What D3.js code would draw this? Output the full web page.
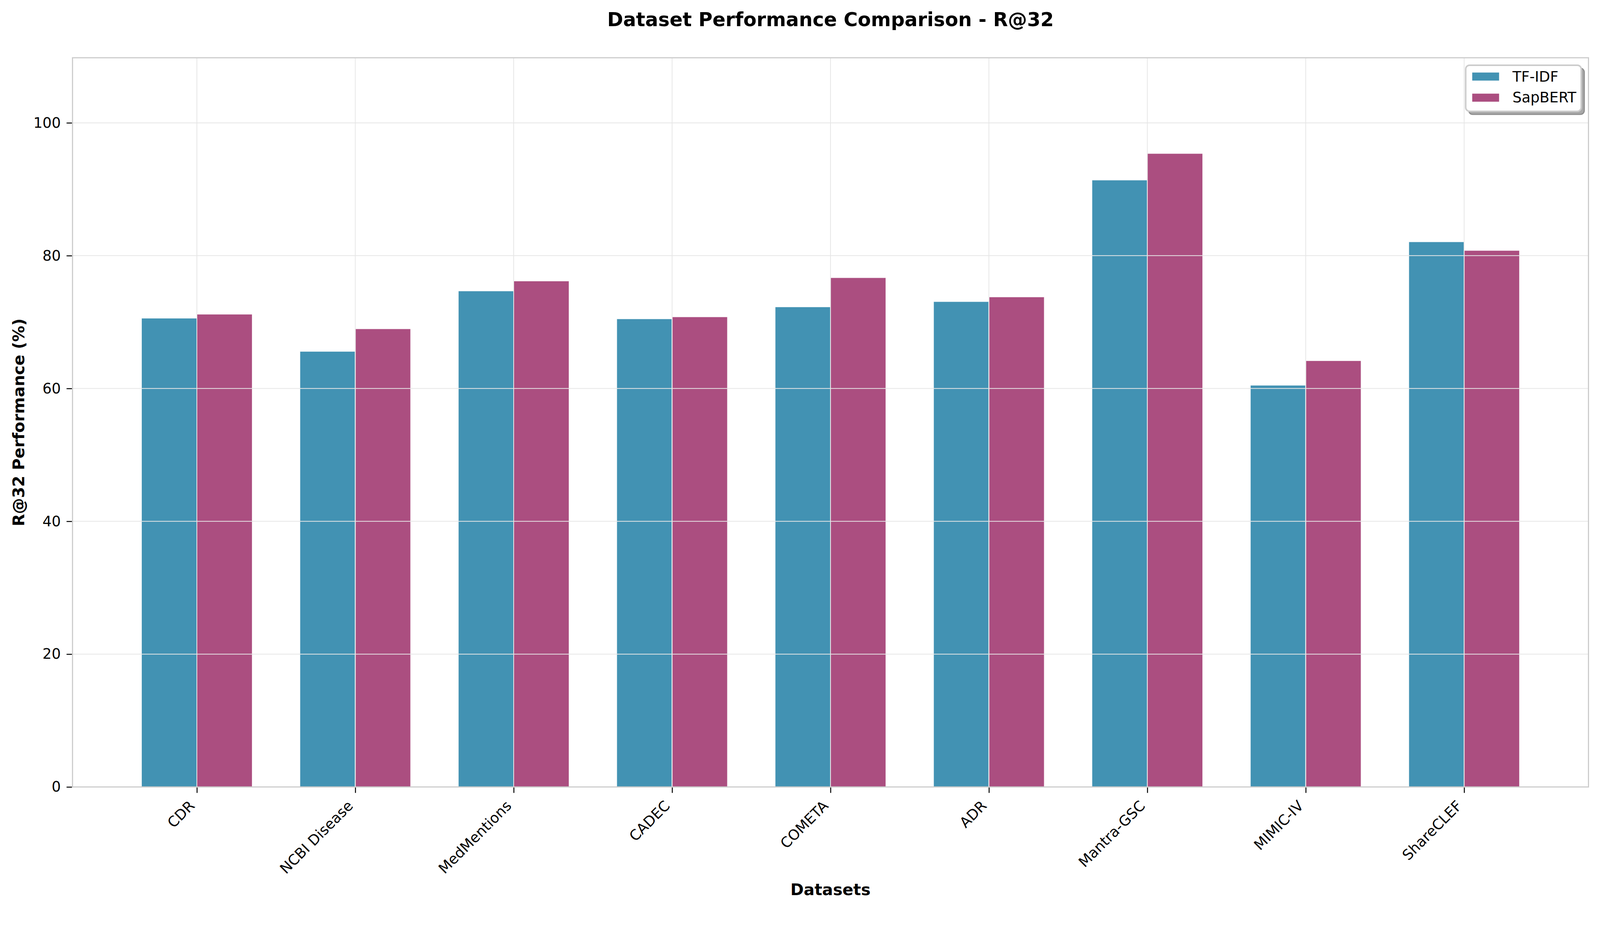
<!DOCTYPE html>
<html>
<head>
<meta charset="utf-8">
<script src="https://cdn.jsdelivr.net/npm/d3@7"></script>
<style>
  html, body { margin: 0; padding: 0; background: #ffffff; overflow: hidden; width: 100%; height: 100%; }
  svg { display: block; }
  text { font-family: "DejaVu Sans", sans-serif; fill: #000; }
</style>
</head>
<body>
<script>
// ---- data ----
const categories = ["CDR", "NCBI Disease", "MedMentions", "CADEC", "COMETA", "ADR", "Mantra-GSC", "MIMIC-IV", "ShareCLEF"];
const seriesNames = ["TF-IDF", "SapBERT"];
const tfidfValues = [70.6, 65.6, 74.7, 70.5, 72.3, 73.1, 91.4, 60.5, 82.1];
const sapbertValues = [71.2, 69.0, 76.2, 70.8, 76.7, 73.8, 95.4, 64.2, 80.8];
const yTicks = [0, 20, 40, 60, 80, 100];
const yMax = 109.8;
const chartTitle = "Dataset Performance Comparison - R@32";
const xLabel = "Datasets";
const yLabel = "R@32 Performance (%)";
const colors = ["#2E86AB", "#A23B72"];

const W = 4170, H = 2370;
const plot = { left: 189, right: 4140, top: 150.5, bottom: 2050.5 };
const barW = 0.35;

const svg = d3.select("body").append("svg")
  .attr("viewBox", `0 0 ${W} ${H}`)
  .attr("preserveAspectRatio", "xMinYMin meet")
  .style("width", "100vw").style("height", "100vh");
svg.append("rect").attr("width", W).attr("height", H).attr("fill", "#fff");

const x = d3.scaleLinear().domain([-0.785, categories.length - 1 + 0.785]).range([plot.left, plot.right]);
const y = d3.scaleLinear().domain([0, yMax]).range([plot.bottom, plot.top]);

// bars
const series = [tfidfValues, sapbertValues];
series.forEach((vals, si) => {
  const off = si === 0 ? -barW / 2 : barW / 2;
  svg.append("g").selectAll("rect").data(vals).enter().append("rect")
    .attr("x", (d, i) => x(i + off - barW / 2))
    .attr("width", (d, i) => x(i + off + barW / 2) - x(i + off - barW / 2))
    .attr("y", d => y(d))
    .attr("height", d => y(0) - y(d))
    .attr("fill", colors[si])
    .attr("fill-opacity", 0.9)
    .attr("stroke", "#ffffff")
    .attr("stroke-opacity", 0.9)
    .attr("stroke-width", 2);
});

// grid (above bars, like matplotlib default)
const grid = svg.append("g");
grid.selectAll("line.h").data(yTicks).enter().append("line")
  .attr("x1", plot.left).attr("x2", plot.right)
  .attr("y1", d => y(d)).attr("y2", d => y(d))
  .attr("stroke", "#e6e6e6").attr("stroke-width", 2);
grid.selectAll("line.v").data(categories.map((c, i) => i)).enter().append("line")
  .attr("x1", d => x(d)).attr("x2", d => x(d))
  .attr("y1", plot.top).attr("y2", plot.bottom)
  .attr("stroke", "#e6e6e6").attr("stroke-width", 2);

// spines
svg.append("rect")
  .attr("x", plot.left).attr("y", plot.top)
  .attr("width", plot.right - plot.left).attr("height", plot.bottom - plot.top)
  .attr("fill", "none").attr("stroke", "#cccccc").attr("stroke-width", 3);

// x axis
const xAxis = d3.axisBottom(x)
  .tickValues(categories.map((c, i) => i))
  .tickFormat(i => categories[i])
  .tickSizeInner(14).tickSizeOuter(0).tickPadding(0);
const gx = svg.append("g").attr("transform", `translate(0,${plot.bottom + 1.5})`).call(xAxis);
gx.select(".domain").remove();
gx.selectAll(".tick line").attr("stroke", "#000").attr("stroke-width", 2.5);
gx.selectAll(".tick text")
  .attr("font-size", 37.5)
  .attr("font-family", "DejaVu Sans")
  .attr("text-anchor", "end")
  .attr("y", 0).attr("dy", 0)
  .attr("transform", "translate(-4,50) rotate(-45)");

// y axis
const yAxis = d3.axisLeft(y).tickValues(yTicks).tickFormat(d3.format("d"))
  .tickSizeInner(14).tickSizeOuter(0).tickPadding(15);
const gy = svg.append("g").attr("transform", `translate(${plot.left - 1.5},0)`).call(yAxis);
gy.select(".domain").remove();
gy.selectAll(".tick line").attr("stroke", "#000").attr("stroke-width", 2.5);
gy.selectAll(".tick text").attr("font-size", 37.5).attr("font-family", "DejaVu Sans");

// title & labels
const cx = (plot.left + plot.right) / 2;
svg.append("text").attr("x", cx).attr("y", 68).attr("text-anchor", "middle")
  .attr("font-size", 50).attr("font-weight", "bold").text(chartTitle);
svg.append("text").attr("x", cx).attr("y", 2332).attr("text-anchor", "middle")
  .attr("font-size", 41.7).attr("font-weight", "bold").text(xLabel);
svg.append("text")
  .attr("transform", `translate(63,${(plot.top + plot.bottom) / 2}) rotate(-90)`)
  .attr("text-anchor", "middle")
  .attr("font-size", 41.7).attr("font-weight", "bold").text(yLabel);

// legend
const lg = svg.append("g");
const L = { x: 3820, y: 170, w: 301, h: 120 };
lg.append("rect").attr("x", L.x + 8).attr("y", L.y + 8).attr("width", L.w).attr("height", L.h)
  .attr("rx", 10).attr("fill", "#a8a8a8").attr("stroke", "#8f8f8f").attr("stroke-width", 3);
lg.append("rect").attr("x", L.x).attr("y", L.y).attr("width", L.w).attr("height", L.h)
  .attr("rx", 10).attr("fill", "#ffffff").attr("stroke", "#cccccc").attr("stroke-width", 4);
seriesNames.forEach((name, i) => {
  const yy = [188, 243][i];
  lg.append("rect").attr("x", 3836).attr("y", yy).attr("width", 72).attr("height", 23)
    .attr("fill", colors[i]).attr("fill-opacity", 0.9)
    .attr("stroke", "#ffffff").attr("stroke-width", 2);
  lg.append("text").attr("x", 3942).attr("y", [213, 267][i])
    .attr("font-size", 37.5).text(name);
});
</script>
</body>
</html>
